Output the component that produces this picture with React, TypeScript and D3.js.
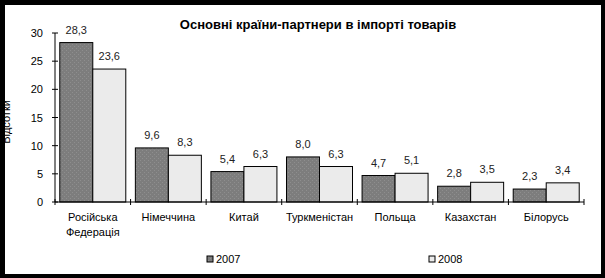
import React from "react";
import * as d3 from "d3";

const categories: string[][] = [
  ["Російська", "Федерація"],
  ["Німеччина"],
  ["Китай"],
  ["Туркменістан"],
  ["Польща"],
  ["Казахстан"],
  ["Білорусь"],
];
const seriesNames = ["2007", "2008"];
const values2007 = [28.3, 9.6, 5.4, 8.0, 4.7, 2.8, 2.3];
const values2008 = [23.6, 8.3, 6.3, 6.3, 5.1, 3.5, 3.4];
const yTicks = [0, 5, 10, 15, 20, 25, 30];
const title = "Основні країни-партнери в імпорті товарів";
const yLabel = "Відсотки";

const W = 605;
const H = 278;
const plot = { left: 55, right: 584, top: 33, bottom: 202 };
const font = "'Liberation Sans', Arial, sans-serif";

export default function App() {
  const x = d3
    .scaleBand<number>()
    .domain(d3.range(categories.length))
    .range([plot.left, plot.right])
    .paddingInner(0)
    .paddingOuter(0);
  const inner = d3
    .scaleBand<number>()
    .domain([0, 1])
    .range([0, x.bandwidth()])
    .paddingOuter(0.145)
    .paddingInner(0);
  const y = d3.scaleLinear().domain([0, 30]).range([plot.bottom, plot.top]);
  const series = [values2007, values2008];
  const fills = ["url(#dots)", "#ebebeb"];
  const fmt = (v: number) => v.toFixed(1).replace(".", ",");

  return (
    <svg
      width={W}
      height={H}
      style={{ position: "absolute", left: 0, top: 0 }}
      fontFamily={font}
    >
      <defs>
        <pattern id="dots" width="4" height="4" patternUnits="userSpaceOnUse">
          <rect width="4" height="4" fill="#7d7d7d" />
          <rect x="0" y="0" width="1" height="1" fill="#8e8e8e" />
          <rect x="2" y="2" width="1" height="1" fill="#8e8e8e" />
        </pattern>
      </defs>
      <rect x={0} y={0} width={W} height={H} fill="#000" />
      <rect x={5} y={5} width={596} height={269} fill="#fff" />

      <text
        x={318}
        y={29}
        textAnchor="middle"
        fontSize={13}
        fontWeight="bold"
        fill="#000"
      >
        {title}
      </text>

      {/* bars */}
      {categories.map((_, i) =>
        series.map((vals, s) => {
          const bx = (x(i) as number) + (inner(s) as number);
          const bw = inner.bandwidth();
          const by = y(vals[i]);
          return (
            <g key={`${i}-${s}`}>
              <rect
                x={bx}
                y={by}
                width={bw}
                height={plot.bottom - by}
                fill={fills[s]}
                stroke="#000"
                strokeWidth={1}
              />
              <text
                x={bx + bw / 2}
                y={by - 9}
                textAnchor="middle"
                fontSize={11}
                fill="#222"
              >
                {fmt(vals[i])}
              </text>
            </g>
          );
        })
      )}

      {/* y axis */}
      <line
        x1={plot.left}
        x2={plot.left}
        y1={plot.top}
        y2={plot.bottom}
        stroke="#000"
      />
      {yTicks.map((t) => (
        <g key={t}>
          <line
            x1={plot.left - 3}
            x2={plot.left + 3}
            y1={y(t)}
            y2={y(t)}
            stroke="#000"
          />
          <text
            x={plot.left - 12}
            y={y(t) + 4}
            textAnchor="end"
            fontSize={11}
            fill="#000"
          >
            {t}
          </text>
        </g>
      ))}

      {/* x axis */}
      <line
        x1={plot.left}
        x2={plot.right}
        y1={plot.bottom}
        y2={plot.bottom}
        stroke="#000"
      />
      {d3.range(categories.length + 1).map((i) => {
        const xx =
          i < categories.length
            ? (x(i) as number)
            : (x(categories.length - 1) as number) + x.bandwidth();
        return (
          <line
            key={i}
            x1={xx}
            x2={xx}
            y1={plot.bottom - 3}
            y2={plot.bottom + 3}
            stroke="#000"
          />
        );
      })}
      {categories.map((lines, i) => (
        <text
          key={i}
          x={(x(i) as number) + x.bandwidth() / 2}
          y={221}
          textAnchor="middle"
          fontSize={11}
          fill="#000"
        >
          {lines.map((l, k) => (
            <tspan key={k} x={(x(i) as number) + x.bandwidth() / 2} dy={k === 0 ? 0 : 15}>
              {l}
            </tspan>
          ))}
        </text>
      ))}

      {/* y label */}
      <text
        transform={`translate(10,122) rotate(-90)`}
        textAnchor="middle"
        fontSize={11}
        fill="#000"
      >
        {yLabel}
      </text>

      {/* legend */}
      {seriesNames.map((n, s) => {
        const lx = s === 0 ? 207 : 429;
        return (
          <g key={n}>
            <rect
              x={lx}
              y={256}
              width={6}
              height={6}
              fill={fills[s]}
              stroke="#000"
            />
            <text x={lx + 9} y={263} fontSize={11} fill="#000">
              {n}
            </text>
          </g>
        );
      })}

      {/* frame on top to clip */}
      <rect x={0} y={0} width={5} height={H} fill="#000" />
    </svg>
  );
}
